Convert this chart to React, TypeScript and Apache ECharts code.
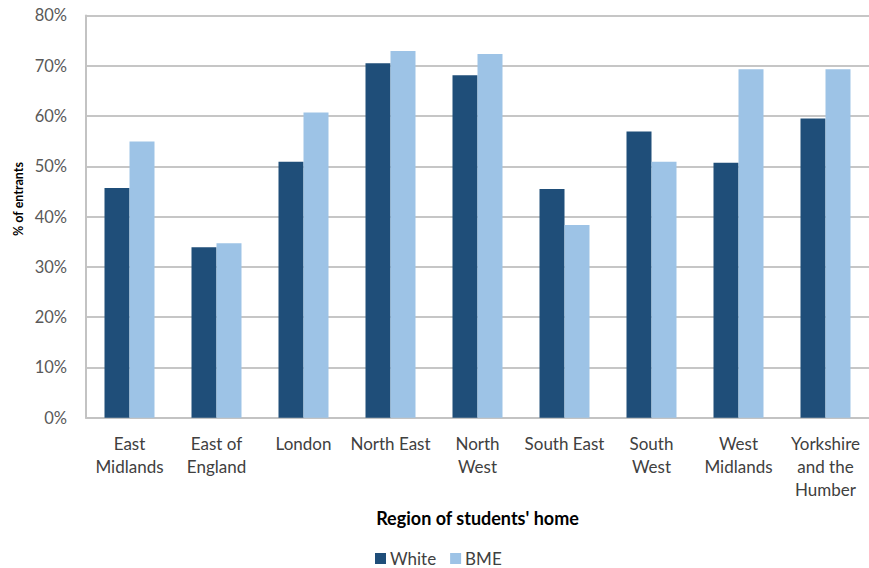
import React, { useEffect, useRef } from "react";
import * as echarts from "echarts";

const regions = [
  "East\nMidlands",
  "East of\nEngland",
  "London",
  "North East",
  "North\nWest",
  "South East",
  "South\nWest",
  "West\nMidlands",
  "Yorkshire\nand the\nHumber",
];

const whiteShare = [45.7, 33.9, 50.9, 70.5, 68.1, 45.5, 56.9, 50.7, 59.5];
const bmeShare = [54.9, 34.7, 60.7, 72.9, 72.3, 38.3, 50.9, 69.3, 69.3];

const yTicks = [0, 10, 20, 30, 40, 50, 60, 70, 80];

const FONT = "Lato, 'Open Sans', sans-serif";
const DARK = "#1f4e79";
const LIGHT = "#9dc3e6";

export default function App() {
  const ref = useRef<HTMLDivElement>(null);

  useEffect(() => {
    document.body.style.margin = "0";
    if (!ref.current) return;
    const chart = echarts.init(ref.current, undefined, { renderer: "svg" });
    chart.setOption({
      animation: false,
      backgroundColor: "#ffffff",
      textStyle: { fontFamily: FONT },
      grid: { left: 86, top: 15.4, width: 787, height: 402.3 },
      xAxis: {
        type: "category",
        data: regions,
        axisTick: { show: false },
        axisLine: { lineStyle: { color: "#c3c3c3", width: 2 } },
        axisLabel: {
          color: "#404040",
          fontSize: 17,
          lineHeight: 23,
          margin: 14,
          interval: 0,
        },
        name: "Region of students' home",
        nameLocation: "middle",
        nameGap: 91,
        nameTextStyle: {
          color: "#000000",
          fontSize: 18,
          fontWeight: "bold",
        },
      },
      yAxis: {
        type: "value",
        min: yTicks[0],
        max: yTicks[yTicks.length - 1],
        interval: 10,
        axisLine: { show: true, lineStyle: { color: "#c3c3c3", width: 2 } },
        axisTick: { show: false },
        splitLine: { lineStyle: { color: "#c6c6c6", width: 2 } },
        axisLabel: {
          color: "#595959",
          fontSize: 16.5,
          margin: 19,
          formatter: "{value}%",
        },
      },
      legend: {
        left: 375,
        top: 550,
        padding: 0,
        icon: "rect",
        itemWidth: 11,
        itemHeight: 11,
        itemGap: 14,
        textStyle: { color: "#404040", fontSize: 17, padding: [0, 0, 0, -1] },
        data: ["White", "BME"],
      },
      graphic: [
        {
          type: "text",
          x: 18,
          y: 199,
          rotation: Math.PI / 2,
          style: {
            text: "% of entrants",
            fill: "#000000",
            font: `bold 12.5px ${FONT}`,
            align: "center",
            verticalAlign: "middle",
          },
        },
      ],
      series: [
        {
          name: "White",
          type: "bar",
          data: whiteShare,
          barWidth: 25,
          barGap: "0%",
          itemStyle: { color: DARK },
        },
        {
          name: "BME",
          type: "bar",
          data: bmeShare,
          barWidth: 25,
          barGap: "0%",
          itemStyle: { color: LIGHT },
        },
      ],
    });
    return () => chart.dispose();
  }, []);

  return <div ref={ref} style={{ width: 869, height: 568 }} />;
}
